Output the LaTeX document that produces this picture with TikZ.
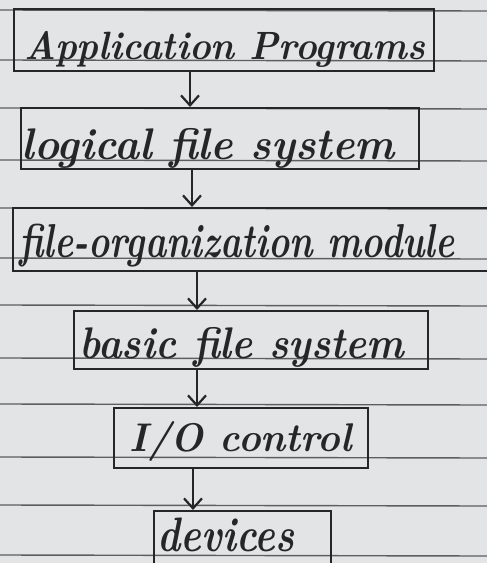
\documentclass[tikz,border=0pt]{standalone}
\usetikzlibrary{arrows.meta}
\definecolor{paper}{HTML}{E3E4E6}
\definecolor{rule}{HTML}{5E5E60}
\definecolor{inkc}{HTML}{262628}
\begin{document}
\begin{tikzpicture}[x=1pt,y=-1pt,
  ink/.style={draw=inkc, line width=2.2pt},
  layer/.style={ink, rectangle, inner sep=0pt, anchor=north west},
  label/.style={text=inkc, inner sep=0pt},
  flow/.style={ink, -{Straight Barb[length=10pt,width=18pt,line width=2.2pt]}}]
  % page and clipping
  \fill[paper] (0,0) rectangle (487,563);
  \useasboundingbox (0,0) rectangle (487,563);
  \clip (0,0) rectangle (487,563);
  % ruled lines of the notebook page
  \foreach \yy in {10,60,108,160,208,258,305,358,404,457,505,555}
    \draw[rule, line width=1.4pt] (0,\yy) -- (487,\yy+1);
  % layers of the file system
  \node[layer, minimum width=420pt, minimum height=62pt] (b1) at (13,8) {};
  \node[layer, minimum width=398pt, minimum height=61pt] (b2) at (20,107) {};
  \node[layer, minimum width=500pt, minimum height=63pt] (b3) at (12,207) {};
  \node[layer, minimum width=354pt, minimum height=58pt] (b4) at (73,310) {};
  \node[layer, minimum width=254pt, minimum height=60pt] (b5) at (113,407) {};
  \node[layer, minimum width=177pt, minimum height=70pt] (b6) at (153,510) {};
  % layer names
  \node[label] (t1) at (225,49) {\resizebox*{400pt}{36pt}{\bfseries\itshape Application Programs}};
  \node[label] (t2) at (208,148) {\resizebox*{373pt}{40pt}{\bfseries\itshape logical file system}};
  \node[label] (t3) at (237,246) {\resizebox*{435pt}{43pt}{\bfseries\itshape file-organization module}};
  \node[label] (t4) at (242,347) {\resizebox*{325pt}{40pt}{\bfseries\itshape basic file system}};
  \node[label] (t5) at (241,441) {\resizebox*{222pt}{40pt}{\bfseries\itshape I/O control}};
  \node[label] (t6) at (226,535) {\resizebox*{137pt}{34pt}{\bfseries\itshape devices}};
  % downward arrows between layers
  \coordinate (a1) at (190,0);
  \coordinate (a2) at (192,0);
  \coordinate (a3) at (197,0);
  \coordinate (a4) at (197,0);
  \coordinate (a5) at (193,0);
  \draw[flow] (b1.south -| a1) -- (b2.north -| a1);
  \draw[flow] (b2.south -| a2) -- (b3.north -| a2);
  \draw[flow] (b3.south -| a3) -- (b4.north -| a3);
  \draw[flow] (b4.south -| a4) -- (b5.north -| a4);
  \draw[flow] (b5.south -| a5) -- (b6.north -| a5);
\end{tikzpicture}
\end{document}
